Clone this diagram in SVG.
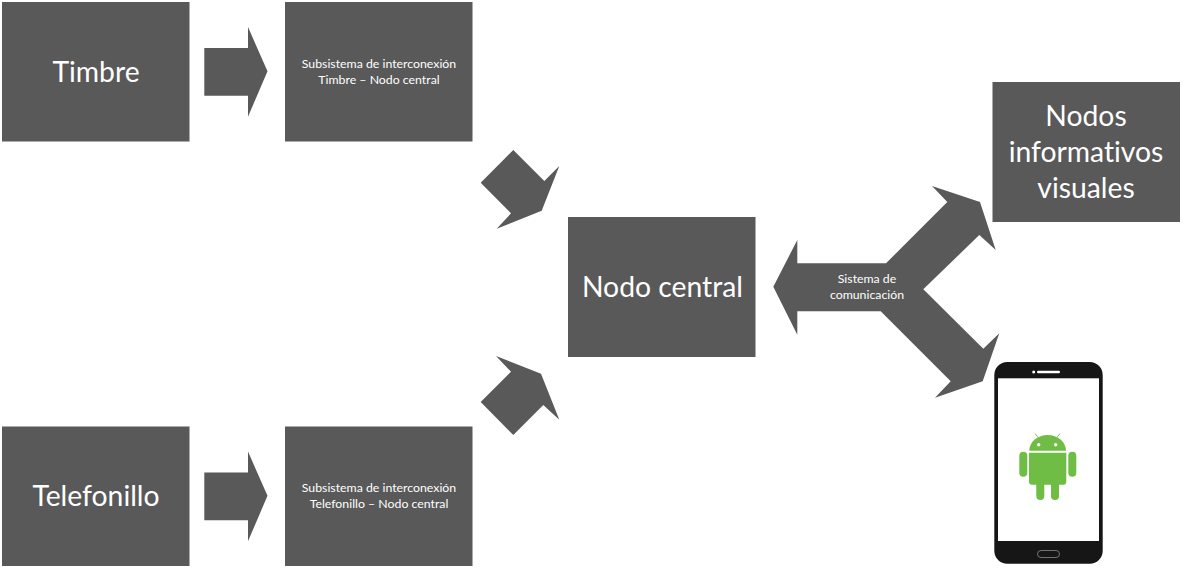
<svg xmlns="http://www.w3.org/2000/svg" width="1186" height="568" viewBox="0 0 1186 568">
<style>
.b{fill:#595959}
.a{fill:#595959}
text{font-family:"Lato","Open Sans","Liberation Sans",sans-serif;fill:#fff;text-anchor:middle;font-variant-ligatures:none}
.l{font-size:28.3px}
.s{font-size:12.3px}
.g{fill:#70bd45}
</style>
<rect width="1186" height="568" fill="#fff"/>
<g id="connectors">
<polygon class="a" points="204.3,48 248,48 248,27 267.5,71.3 248,116.7 248,95.7 204.3,95.7"/>
<polygon class="a" points="204.3,472.5 248,472.5 248,451.5 267.5,495.8 248,541.2 248,520.2 204.3,520.2"/>
<polygon class="a" points="513.3,150 544.3,181 559.3,166 541.7,210.7 496.7,228.7 511,213.3 480.7,182.7"/>
<polygon class="a" points="480.7,402 511,371.7 496,356 541,373.7 559.3,419.7 543.3,405 513.3,435"/>
<g id="sistema">
<polygon class="a" points="773.3,286.7 797.3,240 797.3,263.3 886,263.3 947.3,202 932,186 980,202 995.7,250 979.3,235 923.3,289.3 983.3,348.7 999.3,333.3 982.7,381.3 935,397.7 950.7,381.3 880.7,311.3 797.3,311.3 797.3,334.7"/>
<text class="s" x="867" y="283">Sistema de</text>
<text class="s" x="867" y="299">comunicación</text>
</g>
</g>
<g id="timbre"><rect class="b" x="2" y="2" width="187.500" height="139.500"/><text class="l" x="96" y="81.500">Timbre</text></g>
<g id="sub-timbre"><rect class="b" x="285" y="2" width="187.500" height="139.500"/><text class="s" x="379" y="68">Subsistema de interconexión</text><text class="s" x="379" y="84">Timbre – Nodo central</text></g>
<g id="telefonillo"><rect class="b" x="2" y="426.500" width="187.500" height="139.500"/><text class="l" x="96" y="505.500">Telefonillo</text></g>
<g id="sub-telefonillo"><rect class="b" x="285" y="426.500" width="187.500" height="139.500"/><text class="s" x="379" y="492">Subsistema de interconexión</text><text class="s" x="379" y="508">Telefonillo – Nodo central</text></g>
<g id="nodo-central"><rect class="b" x="568" y="217" width="187.500" height="140"/><text class="l" x="662.500" y="296.500">Nodo central</text></g>
<g id="nodos-informativos"><rect class="b" x="992.500" y="82" width="187.500" height="140"/><text class="l" x="1086" y="125.500">Nodos</text><text class="l" x="1086" y="161.500">informativos</text><text class="l" x="1086" y="197.500">visuales</text></g>
<g id="telefono">
<rect x="994.300" y="362" width="108.400" height="201.700" rx="13" fill="#161616"/>
<rect x="998" y="378.300" width="101" height="162.700" fill="#fff"/>
<rect x="1037" y="370.800" width="23" height="2.400" rx="1.200" fill="#fff"/>
<circle cx="1033.700" cy="372" r="1.500" fill="#fff"/>
<rect x="1037.500" y="550.500" width="22" height="7" rx="3.500" fill="none" stroke="#8a8a8a" stroke-width="0.800"/>
<path class="g" d="M1029.300 450.700a18.350 15.700 0 0 1 36.700 0z"/>
<path d="M1035 433.500l3.500 4.500M1060 433.500l-3.500 4.500" stroke="#70bd45" stroke-width="0.900" fill="none"/>
<circle cx="1038.700" cy="444.700" r="1.700" fill="#fff"/>
<circle cx="1055.700" cy="444.700" r="1.700" fill="#fff"/>
<path class="g" d="M1029 452.700h37.300v29a3 3 0 0 1-3 3h-31.300a3 3 0 0 1-3-3z"/>
<rect class="g" x="1019.300" y="451.700" width="8" height="25" rx="4"/>
<rect class="g" x="1068.300" y="451.700" width="8" height="25" rx="4"/>
<rect class="g" x="1036.300" y="480" width="8" height="20" rx="4"/>
<rect class="g" x="1051" y="480" width="8" height="20" rx="4"/>
</g>
</svg>
